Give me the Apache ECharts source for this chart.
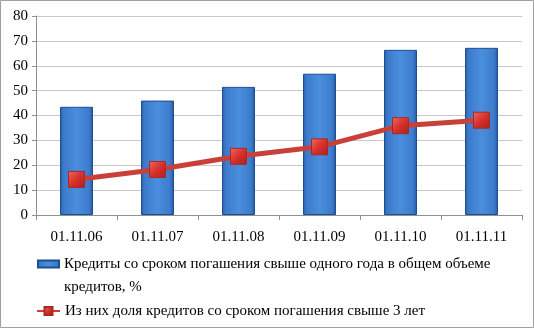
<!DOCTYPE html>
<html><head><meta charset="utf-8">
<script src="https://cdn.jsdelivr.net/npm/echarts@6/dist/echarts.min.js"></script>
<style>html,body{margin:0;padding:0;background:#fff}#c{width:534px;height:328px}</style>
</head><body><div id="c"></div>
<script>
const categories = ['01.11.06','01.11.07','01.11.08','01.11.09','01.11.10','01.11.11'];
const creditsOverYear = [43.5, 46, 51.5, 56.8, 66.4, 67.2];
const creditsOver3Years = [14.3, 18.3, 23.6, 27.4, 35.9, 38.1];
const yTicks = [0,10,20,30,40,50,60,70,80];
const seriesNames = ['Кредиты со сроком погашения свыше одного года в общем объеме\nкредитов, %', 'Из них доля кредитов со сроком погашения свыше 3 лет'];

const font = '"Liberation Serif", "Times New Roman", serif';
const chart = echarts.init(document.getElementById('c'));
chart.setOption({
  animation: false,
  backgroundColor: '#fff',
  graphic: [{type:'rect', shape:{x:0.5,y:0.5,width:533,height:327}, style:{fill:'none', stroke:'#a0a0a0', lineWidth:1}}],
  grid: {left:36, right:12, top:16, bottom:113, containLabel:false},
  legend: [{
    orient:'vertical', left:32, top:224.5, height:120,
    itemWidth:21, itemHeight:7,
    formatter: function(n){ return '\n' + n; },
    textStyle:{fontFamily:font, fontSize:15, color:'#000', lineHeight:23},
    data:[{name:seriesNames[0], icon:'rect'}]
  },{
    orient:'vertical', left:31, top:294.5, height:40,
    itemWidth:23, itemHeight:10,
    textStyle:{fontFamily:font, fontSize:15, color:'#000', lineHeight:23},
    data:[{name:seriesNames[1]}]
  }],
  xAxis: {
    type:'category', data:categories,
    axisLine:{lineStyle:{color:'#909090'}},
    axisTick:{show:true, length:5, lineStyle:{color:'#909090'}},
    axisLabel:{fontFamily:font, fontSize:15, color:'#000', margin:15}
  },
  yAxis: {
    type:'value', min:yTicks[0], max:yTicks[yTicks.length-1], interval:10,
    axisLine:{show:true, lineStyle:{color:'#909090'}},
    axisTick:{show:true, inside:false, length:4, lineStyle:{color:'#909090'}},
    axisLabel:{fontFamily:font, fontSize:15, color:'#000', margin:8},
    splitLine:{lineStyle:{color:'#c8c8c8', width:1}}
  },
  series: [
    {name:seriesNames[0], type:'bar', data:creditsOverYear, barWidth:33,
     itemStyle:{borderColor:'#1d4f8f', borderWidth:1,
       color:new echarts.graphic.LinearGradient(0,0,1,0,[
         {offset:0,color:'#2a62ad'},{offset:0.12,color:'#3d7bcc'},{offset:0.5,color:'#4a8ede'},{offset:0.88,color:'#3d7bcc'},{offset:1,color:'#24579e'}])}},
    {name:seriesNames[1], type:'line', data:creditsOver3Years,
     symbol:'rect', symbolSize:16,
     lineStyle:{color:'#c9403b', width:5},
     itemStyle:{color:new echarts.graphic.LinearGradient(0,0,1,1,[{offset:0,color:'#ef6a62'},{offset:0.5,color:'#d8302a'},{offset:1,color:'#a82020'}]), borderColor:'#a52a25', borderWidth:1}}
  ]
});
</script></body></html>
